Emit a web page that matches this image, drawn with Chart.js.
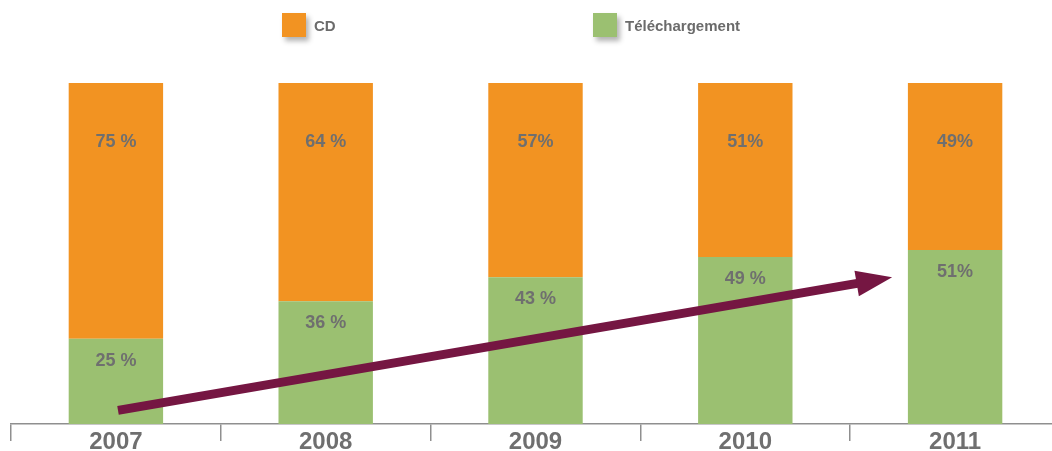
<!DOCTYPE html>
<html>
<head>
<meta charset="utf-8">
<script src="https://cdn.jsdelivr.net/npm/chart.js@4/dist/chart.umd.min.js"></script>
<style>
  html, body { margin: 0; padding: 0; background: #fff; overflow: hidden; }
  #wrap { position: relative; width: 1060px; height: 451px; }
  #chart { position: absolute; left: 0; top: 0; }
  .legend { position: absolute; top: 13px; display: flex; align-items: center;
    font: bold 15px "Liberation Sans", Arial, sans-serif; color: #6b6b6b; }
  .legend span.box { width: 24px; height: 24px; margin-right: 8px;
    box-shadow: 3px 4px 5px rgba(0,0,0,0.3); }
</style>
</head>
<body>
<div id="wrap">
  <canvas id="chart" width="1060" height="451"></canvas>
  <div class="legend" style="left:282px"><span class="box" style="background:#F29322"></span>CD</div>
  <div class="legend" style="left:593px"><span class="box" style="background:#9BC071"></span>Téléchargement</div>
</div>
<script>
const years = ['2007', '2008', '2009', '2010', '2011'];
const downloadShare = [25, 36, 43, 49, 51];
const cdShare = [75, 64, 57, 51, 49];
const downloadLabels = ['25 %', '36 %', '43 %', '49 %', '51%'];
const cdLabels = ['75 %', '64 %', '57%', '51%', '49%'];
// arrow drawn in data space: [category index, percent]
const arrowFrom = [0.01, 4];
const arrowTo = [3.7, 43];

const textGrey = '#6f6f6f';

// draws the value labels inside the bars
const barLabels = {
  id: 'barLabels',
  afterDatasetsDraw(chart) {
    const ctx = chart.ctx;
    ctx.save();
    ctx.font = 'bold 18px "Liberation Sans", Arial, sans-serif';
    ctx.fillStyle = textGrey;
    ctx.textAlign = 'center';
    ctx.textBaseline = 'middle';
    chart.data.datasets.forEach((ds, i) => {
      const meta = chart.getDatasetMeta(i);
      meta.data.forEach((bar, j) => {
        const top = Math.min(bar.y, bar.base);
        ctx.fillText(ds.valueLabels[j], bar.x, top + ds.labelOffset);
      });
    });
    ctx.restore();
  }
};

// the trend arrow
const trendArrow = {
  id: 'trendArrow',
  afterDraw(chart) {
    const xs = chart.scales.x, ys = chart.scales.y;
    const x1 = xs.getPixelForValue(arrowFrom[0]), y1 = ys.getPixelForValue(arrowFrom[1]);
    const x2 = xs.getPixelForValue(arrowTo[0]), y2 = ys.getPixelForValue(arrowTo[1]);
    const ang = Math.atan2(y2 - y1, x2 - x1);
    const headLen = 36, headHalf = 13;
    const bx = x2 - headLen * Math.cos(ang), by = y2 - headLen * Math.sin(ang);
    const ctx = chart.ctx;
    ctx.save();
    ctx.strokeStyle = '#751642';
    ctx.fillStyle = '#751642';
    ctx.lineWidth = 9;
    ctx.beginPath();
    ctx.moveTo(x1, y1);
    ctx.lineTo(bx + 2 * Math.cos(ang), by + 2 * Math.sin(ang));
    ctx.stroke();
    ctx.beginPath();
    ctx.moveTo(x2, y2);
    ctx.lineTo(bx + headHalf * Math.sin(ang), by - headHalf * Math.cos(ang));
    ctx.lineTo(bx - headHalf * Math.sin(ang), by + headHalf * Math.cos(ang));
    ctx.closePath();
    ctx.fill();
    ctx.restore();
  }
};

new Chart(document.getElementById('chart'), {
  type: 'bar',
  data: {
    labels: years,
    datasets: [
      {
        label: 'Téléchargement',
        data: downloadShare,
        backgroundColor: '#9BC071',
        valueLabels: downloadLabels,
        labelOffset: 22
      },
      {
        label: 'CD',
        data: cdShare,
        backgroundColor: '#F29322',
        valueLabels: cdLabels,
        labelOffset: 59
      }
    ]
  },
  options: {
    responsive: false,
    animation: false,
    devicePixelRatio: 1,
    layout: { padding: { left: 11, right: 0, top: 83, bottom: 0 } },
    datasets: { bar: { barPercentage: 0.45, categoryPercentage: 1 } },
    plugins: { legend: { display: false }, tooltip: { enabled: false } },
    scales: {
      x: {
        stacked: true,
        grid: { offset: true, drawOnChartArea: false, tickLength: 17, color: '#8f8f8f', lineWidth: 1.5 },
        border: { display: true, color: '#8f8f8f', width: 1.5 },
        ticks: { padding: -13, color: textGrey, font: { family: '"Liberation Sans", Arial, sans-serif', size: 24, weight: 'bold' } },
        afterFit(scale) { scale.height = 27; }
      },
      y: {
        stacked: true,
        display: false,
        min: 0,
        max: 100
      }
    }
  },
  plugins: [barLabels, trendArrow]
});
</script>
</body>
</html>
